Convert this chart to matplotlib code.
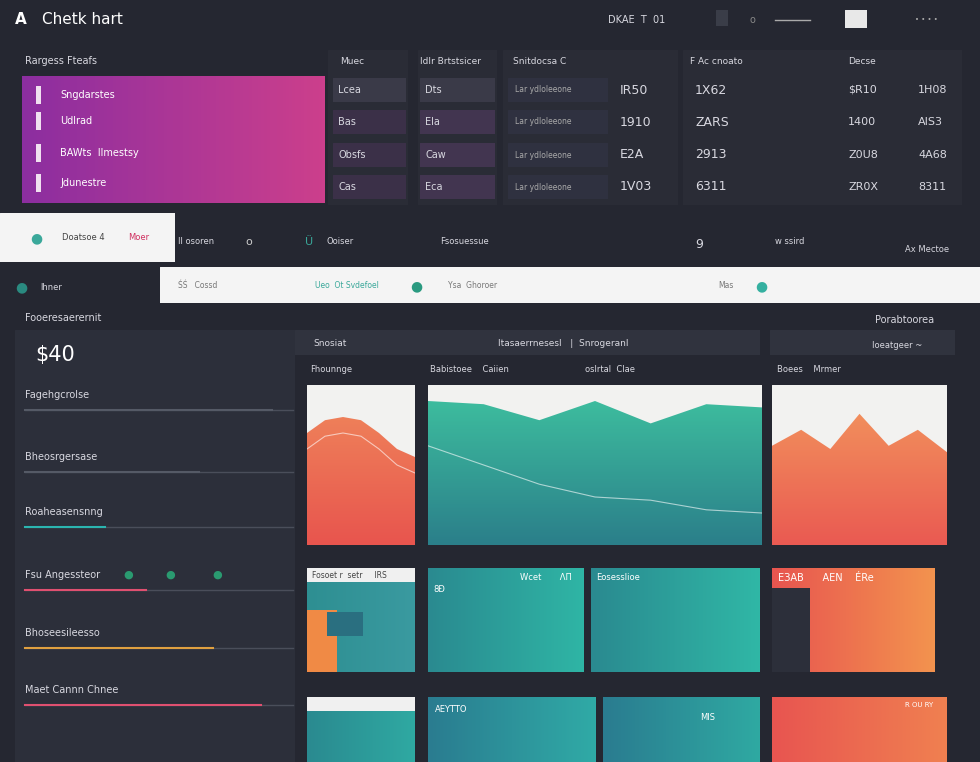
import numpy as np
import matplotlib
matplotlib.use("Agg")
import matplotlib.pyplot as plt
from matplotlib.colors import LinearSegmentedColormap

# ---- data ----
title = "Chetk hart"
menu_labels = ["Sngdarstes", "Udlrad", "BAWts  Ilmestsy", "Jdunestre"]
table_col1 = ["Lcea", "Bas", "Obsfs", "Cas"]
table_col2 = ["Dts", "Ela", "Caw", "Eca"]
table_col3 = ["IR50", "1910", "E2A", "1V03"]
table_col4 = ["1X62", "ZARS", "2913", "6311"]
table_col5 = ["$R10", "1400", "Z0U8", "ZR0X"]
table_col6 = ["1H08", "AIS3", "4A68", "8311"]
kpi_value = "$40"
side_labels = ["Fagehgcrolse", "Bheosrgersase", "Roaheasensnng", "Fsu Angessteor", "Bhoseesileesso", "Maet Cannn Chnee"]
side_progress = [0.92, 0.65, 0.30, 0.45, 0.70, 0.88]
area_x = [0, 1, 2, 3, 4, 5, 6]
orange_left = [0.70, 0.78, 0.80, 0.78, 0.70, 0.60, 0.55]
teal_top = [0.90, 0.88, 0.78, 0.90, 0.76, 0.88, 0.86]
teal_line = [0.62, 0.50, 0.38, 0.30, 0.28, 0.22, 0.20]
orange_right = [0.62, 0.72, 0.60, 0.82, 0.62, 0.72, 0.58]

BG = "#252731"
PANEL = "#2c2f3a"
W, H = 980, 762
fig = plt.figure(figsize=(9.8, 7.62), dpi=100, facecolor=BG)

def ax_px(x, y, w, h, color=None):
    a = fig.add_axes([x / W, 1 - (y + h) / H, w / W, h / H])
    a.set_xlim(0, 1); a.set_ylim(0, 1); a.axis("off")
    if color:
        a.add_patch(plt.Rectangle((0, 0), 1, 1, color=color, transform=a.transAxes, zorder=0))
    return a

def grad(a, c1, c2, vertical=False):
    cm = LinearSegmentedColormap.from_list("g", [c1, c2])
    g = np.linspace(0, 1, 100).reshape(1, -1)
    if vertical:
        g = g.T
    a.imshow(g, cmap=cm, aspect="auto", extent=[0, 1, 0, 1], origin="lower", zorder=0)

def t(x, y, s, size=7, color="#d8d8e0", **kw):
    fig.text(x / W, 1 - y / H, s, fontsize=size, color=color, va="center", **kw)

# header
t(15, 20, "A", 11, "white", weight="bold")
t(42, 20, title, 11, "white")
t(608, 20, "DKAE  T  01", 7)
ax_px(716, 10, 12, 16, "#3a3d48")
t(750, 20, "o", 7, "#888")
fig.add_artist(plt.Line2D([775 / W, 810 / W], [1 - 20 / H] * 2, color="#aaa", lw=1))
ax_px(845, 10, 22, 18, "#e8e8e8")
t(915, 20, "• • • •", 5, "#aaa")

# magenta menu panel
t(25, 61, "Rargess Fteafs", 7)
a = ax_px(22, 76, 303, 127)
grad(a, "#8c2ea0", "#cc3f8c")
for i, lab in enumerate(menu_labels):
    y = [95, 121, 153, 183][i]
    ax_px(36, y - 9, 5, 18, "#f0e0f0")
    t(60, y, lab, 7, "white")

# tables
hdr = [(340, "Muec"), (420, "Idlr Brtstsicer"), (513, "Snitdocsa C"), (690, "F Ac cnoato"), (848, "Decse")]
for x, s in hdr:
    t(x, 61, s, 6.5)
for x0, x1 in [(328, 408), (418, 497), (503, 678), (683, 962)]:
    ax_px(x0, 50, x1 - x0, 155, "#2a2c36")
rows_y = [90, 122, 155, 187]
for i, y in enumerate(rows_y):
    ax_px(333, y - 12, 73, 24, "#3b3048" if i else "#3a3a48")
    ax_px(420, y - 12, 75, 24, "#423550" if i else "#3a3a48")
    ax_px(508, y - 12, 100, 24, "#2f3140")
    t(338, y, table_col1[i], 7)
    t(425, y, table_col2[i], 7)
    t(515, y, "Lar ydloleeone", 5.5, "#aaa")
    t(620, y, table_col3[i], 9)
    t(695, y, table_col4[i], 9)
    t(848, y, table_col5[i], 8)
    t(918, y, table_col6[i], 8)

# white strips
ax_px(0, 213, 175, 49, "#f4f4f4")
t(30, 238, "●", 10, "#3aa89a")
t(62, 238, "Doatsoe 4", 6, "#444")
t(128, 238, "Moer", 6, "#d03060")
t(178, 242, "Il osoren", 6)
t(245, 242, "o", 8, "#ccc")
t(305, 242, "Ü", 8, "#3aa89a")
t(326, 242, "Ooiser", 6)
t(440, 242, "Fsosuessue", 6)
t(695, 245, "9", 9)
t(775, 242, "w ssird", 6)
t(905, 249, "Ax Mectoe", 6)
ax_px(160, 267, 820, 36, "#f4f4f4")
for x, s in [(178, "ŚŚ   Cossd"), (315, "Ueo  Ot Svdefoel"), (448, "Ysa  Ghoroer"), (718, "Mas")]:
    t(x, 285, s, 5.5, "#3aa89a" if "Ueo" in s else "#777")
t(410, 286, "●", 10, "#2a9a80")
t(755, 286, "●", 10, "#35b0a0")

# left sidebar
t(15, 287, "●", 10, "#2a8a80")
t(40, 287, "lhner", 6)
t(25, 318, "Fooeresaerernit", 7)
ax_px(15, 330, 280, 432, PANEL)
t(35, 355, kpi_value, 15, "white")
cols = ["#555a66", "#555a66", "#2bb5b0", "#e05070", "#e0a040", "#e05070"]
for i, lab in enumerate(side_labels):
    y = [395, 457, 512, 575, 633, 690][i]
    t(25, y, lab, 7)
    ly = y + 15
    fig.add_artist(plt.Line2D([25 / W, 293 / W], [1 - ly / H] * 2, color="#4a4e5a", lw=1))
    fig.add_artist(plt.Line2D([25 / W, (25 + 268 * side_progress[i]) / W], [1 - ly / H] * 2, color=cols[i], lw=1.5))
for x in [123, 165, 212]:
    t(x, 575, "●", 8, "#2a9a70")

# chart headers
ax_px(295, 330, 465, 25, "#30333e")
ax_px(770, 330, 185, 25, "#30333e")
t(313, 343, "Snosiat", 6.5)
t(498, 343, "Itasaerrnesesl   |  Snrogeranl", 6.5)
t(875, 320, "Porabtoorea", 7)
t(872, 346, "Ioeatgeer ~", 6)
t(310, 370, "Fhounnge", 6)
t(430, 370, "Babistoee    Caiien", 6)
t(585, 370, "oslrtal  Clae", 6)
t(777, 370, "Boees    Mrmer", 6)

def area(x0, y0, w, h, top, c1, c2, line=None):
    a = fig.add_axes([x0 / W, 1 - (y0 + h) / H, w / W, h / H])
    a.set_facecolor("#f2f2f0")
    a.set_xlim(min(area_x), max(area_x)); a.set_ylim(0, 1)
    a.axis("off")
    a.add_patch(plt.Rectangle((0, 0), 1, 1, color="#f2f2f0", transform=a.transAxes, zorder=0))
    cm = LinearSegmentedColormap.from_list("g", [c1, c2])
    img = a.imshow(np.linspace(0, 1, 100).reshape(-1, 1), cmap=cm, aspect="auto",
                   extent=[min(area_x), max(area_x), 0, 1], origin="lower", zorder=1)
    poly = a.fill_between(area_x, 0, top, color="none")
    img.set_clip_path(poly.get_paths()[0], transform=a.transData)
    if line:
        a.plot(area_x, line, color="white", lw=0.8, alpha=0.6, zorder=2)
    return a

area(307, 385, 108, 160, orange_left, "#e8554e", "#f08a5c", [v - 0.1 for v in orange_left])
area(428, 385, 334, 160, teal_top, "#2b7f8a", "#3fc3a0", teal_line)
area(772, 385, 175, 160, orange_right, "#ea5a52", "#f39a5e")

# bottom tiles
tiles = [
    (307, 568, 108, 104, "#2e8f92", "#3a9aa0"), (428, 568, 155, 104, "#2a8a90", "#2fb5a5"),
    (591, 568, 169, 104, "#2a8a90", "#30b7a6"), (772, 568, 163, 104, "#e85550", "#f3934e"),
    (307, 697, 108, 65, "#2a8a90", "#2fa9a2"), (428, 697, 167, 65, "#2a7c90", "#30aaa6"),
    (603, 697, 157, 65, "#2a7c90", "#2fa9a2"), (772, 697, 175, 65, "#e85550", "#f08050"),
]
for x0, y0, w, h, c1, c2 in tiles:
    a = ax_px(x0, y0, w, h)
    grad(a, c1, c2)
ax_px(307, 568, 108, 14, "#f0f0f0")
ax_px(307, 610, 30, 62, "#f08a45")
ax_px(327, 612, 36, 24, "#2a6f80")
ax_px(772, 588, 38, 84, "#2c2f3a")
ax_px(307, 697, 108, 14, "#f0f0f0")
t(312, 575, "Fosoet r  setr     IRS", 5.5, "#444")
t(433, 590, "8Ð", 6, "white")
t(520, 578, "Wcet       ΛΠ", 6, "white")
t(596, 578, "Eosesslioe", 6, "white")
t(778, 578, "ЕЗАВ      AЕN    ÉRe", 7, "white")
t(435, 710, "AEYTTO", 6, "white")
t(700, 717, "MIS", 6, "white")
t(905, 705, "R OU RY", 5, "white")

fig.savefig("out.png", dpi=100, facecolor=BG)
